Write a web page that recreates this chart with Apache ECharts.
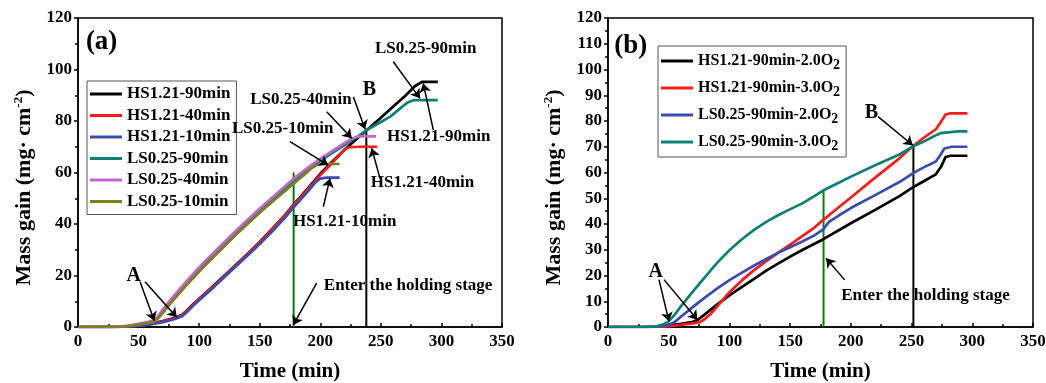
<!DOCTYPE html>
<html>
<head>
<meta charset="utf-8">
<script src="https://cdn.jsdelivr.net/npm/echarts@6/dist/echarts.min.js"></script>
<style>
  html, body { margin: 0; padding: 0; background: #fff; }
  #main { width: 1046px; height: 383px; }
</style>
</head>
<body>
<div id="main"></div>
<script>
// panel (a) curves: [time (min), mass gain]
const hs90a = [[0,0],[30,0],[40,0.2],[50,0.6],[60,1.3],[70,2.3],[80,3.6],[86,4.8],[90,6.5],[95,8.8],[100,11],[110,15.2],[120,19.6],[130,24],[140,28.5],[150,33],[160,38],[170,43],[178,47.5],[190,54],[200,59.5],[210,64.3],[220,68.8],[230,73],[238,76.3],[250,81.3],[260,85.5],[270,89.7],[278,93.5],[284,95.2],[297,95.2]];
const hs40a = [[0,0],[30,0],[40,0.2],[50,0.5],[60,1.2],[70,2.2],[80,3.4],[86,4.6],[90,6.3],[95,8.6],[100,10.8],[110,15],[120,19.4],[130,23.8],[140,28.3],[150,32.8],[160,37.8],[170,42.8],[178,47.3],[190,53.6],[200,59],[210,63.8],[216,66.8],[220,69],[224,69.8],[232,70],[247,70]];
const hs10a = [[0,0],[30,0],[40,0.1],[50,0.4],[60,1],[70,1.9],[80,3.1],[86,4.2],[90,5.8],[95,8.2],[100,10.4],[110,14.6],[120,19],[130,23.4],[140,27.8],[150,32.2],[160,37],[170,42],[178,46.5],[190,52.8],[196,56.2],[200,57.6],[205,58],[216,58]];
const ls90a = [[0,0],[30,0],[40,0.3],[50,1],[58,1.8],[63,2.3],[67,4.2],[70,6],[76,9.6],[90,17.2],[103,23.8],[120,31.8],[131,36.9],[150,45.2],[158,48.5],[175,55.6],[178,56.8],[190,61.3],[200,64.5],[210,67.6],[220,70.6],[230,73.7],[238,76.4],[250,79.6],[258,81.8],[265,84.5],[272,87.2],[277,88.1],[297,88.1]];
const ls40a = [[0,0],[30,0],[40,0.4],[50,1.2],[58,2],[63,2.6],[67,4.8],[70,6.8],[76,10.4],[90,18],[103,24.7],[120,32.6],[131,37.7],[150,46],[158,49.3],[175,56.4],[178,57.6],[190,62],[200,65.3],[210,68.4],[220,71.4],[226,73.2],[232,74],[246,74]];
const ls10a = [[0,0],[30,0],[40,0.3],[50,0.9],[58,1.6],[63,2.1],[67,3.8],[70,5.5],[76,9],[90,16.5],[103,23],[120,31],[131,36.1],[150,44.4],[158,47.7],[175,54.5],[178,55.6],[186,58.8],[192,61.4],[197,62.9],[202,63.3],[216,63.3]];

// panel (b) curves
const hs2b = [[0,0],[30,0],[40,0.2],[50,0.6],[60,1.2],[70,2],[74,2.8],[80,5],[90,8.8],[100,12.3],[110,15.5],[120,18.6],[130,21.8],[140,24.6],[150,27.3],[160,29.9],[177,34],[200,40.3],[220,45.5],[240,50.8],[251,54.2],[260,56.6],[270,59.3],[274,62],[278,66],[282,66.5],[296,66.5]];
const hs3b = [[0,0],[40,0],[50,0.3],[60,0.8],[70,1.4],[76,2],[80,3.2],[85,5.3],[90,8],[100,13.5],[110,18],[120,22],[130,25.5],[140,28.8],[150,32],[160,35.3],[170,38.6],[177,41.5],[190,46.5],[200,50.3],[220,58],[240,65.5],[251,70.2],[260,73.5],[270,76.8],[274,79.5],[278,82.5],[282,83],[296,83]];
const ls2b = [[0,0],[40,0.1],[50,0.8],[55,2],[60,4],[70,7.8],[80,11.5],[90,15],[100,18.2],[110,21],[120,23.8],[130,26.3],[140,28.8],[150,31],[160,33.2],[170,35.6],[177,37.8],[182,40.8],[190,43.3],[200,46.2],[220,51.2],[240,56.3],[251,59.7],[260,62],[270,64.3],[274,67],[277,69.3],[283,70],[296,70]];
const ls3b = [[0,0],[35,0],[40,0.3],[45,0.9],[50,2.2],[55,4.8],[60,8],[70,13.8],[80,19.5],[90,25],[100,29.8],[110,34],[120,37.6],[130,40.7],[140,43.4],[148,45.3],[160,48],[170,50.8],[177,53],[190,56],[200,58.4],[220,62.8],[240,67],[251,70.1],[260,72],[268,74],[274,75.3],[282,75.7],[288,76],[296,76]];

const namesA = ['HS1.21-90min', 'HS1.21-40min', 'HS1.21-10min', 'LS0.25-90min', 'LS0.25-40min', 'LS0.25-10min'];
const namesB = ['HS1.21-90min-2.0O2', 'HS1.21-90min-3.0O2', 'LS0.25-90min-2.0O2', 'LS0.25-90min-3.0O2'];

// vertical marker lines
const greenA = [[178,0],[178,60]];
const blackA = [[238,0],[238,76.4]];
const greenB = [[177.5,0],[177.5,53.2]];
const blackB = [[251.5,0],[251.5,70.2]];

// arrows [from, to]
const arrowsA = [
  [[260.3,103],[282.3,88.8]],
  [[293.3,76.5],[285,94.6]],
  [[205.3,83.6],[226,73.3]],
  [[227.3,89.4],[237,76.8]],
  [[175,72],[206.6,62.9]],
  [[249.3,57.7],[242.4,69.4]],
  [[202.5,46.7],[208,57.7]],
  [[197,17],[177.7,0.8]],
  [[51.2,17.6],[63,2.4]],
  [[55.3,17.6],[81.5,3.8]]
];
const arrowsB = [
  [[222.4,81.7],[251,70.6]],
  [[194.9,18.3],[179.6,26.7]],
  [[42,18.4],[50.2,2.2]],
  [[46.1,18.4],[73.6,2.8]]
];

// text labels [text, x, y] (centered)
const textA = [
  ['LS0.25-90min', 287, 108.2],
  ['LS0.25-40min', 184, 88.5],
  ['LS0.25-10min', 169, 77.2],
  ['HS1.21-90min', 297.7, 73.9],
  ['HS1.21-40min', 284.4, 56],
  ['HS1.21-10min', 220.1, 40.9]
];
const letterA = [['A', 46, 19.7], ['B', 240.5, 92]];
const letterB = [['A', 39.3, 21.6], ['B', 216.9, 83.1]];
const holdA = [['Enter the holding stage', 202.5, 15.9]];
const holdB = [['Enter the holding stage', 191.6, 12]];
const panelA = [['(a)', 19.5, 110.8]];
const panelB = [['(b)', 18.7, 109]];

const colorsA = ['#000000', '#ff1a1a', '#3a4cb0', '#0e7f74', '#c466c8', '#7f7f1e'];
const colorsB = ['#000000', '#ff1a1a', '#3a4cb0', '#0e7f74'];

const FONT = "'Liberation Serif', 'Times New Roman', serif";
const chart = echarts.init(document.getElementById('main'));

function curve(name, data, color, idx) {
  return {
    type: 'line', name: name, data: data,
    xAxisIndex: idx, yAxisIndex: idx,
    symbol: 'none', smooth: false,
    lineStyle: { color: color, width: 2.7, join: 'round' },
    itemStyle: { color: color },
    z: 3
  };
}
function vline(data, color, idx) {
  return {
    type: 'line', data: data, xAxisIndex: idx, yAxisIndex: idx,
    symbol: 'none', silent: true,
    lineStyle: { color: color, width: 2 }, z: 2
  };
}
function arrows(list, idx) {
  return {
    type: 'lines', coordinateSystem: 'cartesian2d',
    xAxisIndex: idx, yAxisIndex: idx,
    symbol: ['none', 'arrow'], symbolSize: 9, silent: true,
    lineStyle: { color: '#000', width: 1.5, opacity: 1, curveness: 0 },
    data: list.map(a => ({ coords: a })), z: 5
  };
}
function texts(list, idx, size, left) {
  return {
    type: 'scatter', xAxisIndex: idx, yAxisIndex: idx,
    symbolSize: 1, silent: true,
    itemStyle: { color: 'rgba(0,0,0,0)', opacity: 1 },
    label: {
      show: true, position: left ? 'right' : 'inside', distance: 0,
      formatter: p => p.name,
      fontFamily: FONT, fontWeight: 'bold', fontSize: size, color: '#000', opacity: 1
    },
    data: list.map(t => ({ name: t[0], value: [t[1], t[2]] })), z: 6
  };
}

const axisText = { fontFamily: FONT, fontWeight: 'bold', fontSize: 17, color: '#000' };
function xAxis(idx) {
  return {
    type: 'value', gridIndex: idx, min: 0, max: 350, interval: 50,
    name: 'Time (min)', nameLocation: 'middle', nameGap: 34,
    nameTextStyle: { fontFamily: FONT, fontWeight: 'bold', fontSize: 21, color: '#000' },
    axisLine: { show: true, lineStyle: { color: '#000', width: 1.5 } },
    axisTick: { show: true, inside: true, length: 4, lineStyle: { color: '#000', width: 1.5 } },
    minorTick: { show: true, splitNumber: 2, length: 3, lineStyle: { color: '#000', width: 1.5 } },
    axisLabel: Object.assign({ margin: 6 }, axisText),
    splitLine: { show: false }
  };
}
function yAxis(idx, interval) {
  return {
    type: 'value', gridIndex: idx, min: 0, max: 120, interval: interval,
    name: 'Mass gain (mg· cm{sup|-2})', nameLocation: 'middle', nameGap: 42,
    nameTextStyle: {
      fontFamily: FONT, fontWeight: 'bold', fontSize: 22, color: '#000', lineHeight: 24,
      padding: [0, 30, 0, 0],
      rich: { sup: { fontFamily: FONT, fontWeight: 'bold', fontSize: 13, color: '#000', verticalAlign: 'top', lineHeight: 13 } }
    },
    axisLine: { show: true, lineStyle: { color: '#000', width: 1.5 } },
    axisTick: { show: true, inside: false, length: 4, lineStyle: { color: '#000', width: 1.5 } },
    minorTick: { show: true, splitNumber: 2, length: 3, lineStyle: { color: '#000', width: 1.5 } },
    axisLabel: Object.assign({ margin: 6 }, axisText),
    splitLine: { show: false }
  };
}

const legendBase = {
  orient: 'vertical', icon: 'rect', itemWidth: 32, itemHeight: 3,
  borderColor: '#555', borderWidth: 1, borderRadius: 0,
  backgroundColor: '#fff', selectedMode: false
};

const option = {
  backgroundColor: '#fff',
  animation: false,
  grid: [
    { left: 78, top: 18, width: 424, height: 309, outerBoundsMode: 'none', show: true, borderColor: '#000', borderWidth: 1.5, backgroundColor: 'transparent' },
    { left: 608, top: 18, width: 425, height: 309, outerBoundsMode: 'none', show: true, borderColor: '#000', borderWidth: 1.5, backgroundColor: 'transparent' }
  ],
  xAxis: [xAxis(0), xAxis(1)],
  yAxis: [yAxis(0, 20), yAxis(1, 10)],
  legend: [
    Object.assign({}, legendBase, {
      data: namesA, left: 87, top: 81, itemGap: 3.5, padding: [4, 6, 4, 3],
      textStyle: { fontFamily: FONT, fontWeight: 'bold', fontSize: 17, color: '#000', lineHeight: 18 }
    }),
    Object.assign({}, legendBase, {
      data: namesB, left: 658, top: 46, itemGap: 5, padding: [4, 6, 4, 3],
      formatter: n => n.replace(/O2$/, 'O{s|2}'),
      textStyle: {
        fontFamily: FONT, fontWeight: 'bold', fontSize: 16, color: '#000', lineHeight: 22,
        rich: { s: { fontFamily: FONT, fontWeight: 'bold', fontSize: 14, color: '#000', verticalAlign: 'bottom', lineHeight: 14 } }
      }
    })
  ],
  series: [
    curve(namesA[0], hs90a, colorsA[0], 0),
    curve(namesA[1], hs40a, colorsA[1], 0),
    curve(namesA[2], hs10a, colorsA[2], 0),
    curve(namesA[3], ls90a, colorsA[3], 0),
    curve(namesA[4], ls40a, colorsA[4], 0),
    curve(namesA[5], ls10a, colorsA[5], 0),
    curve(namesB[0], hs2b, colorsB[0], 1),
    curve(namesB[1], hs3b, colorsB[1], 1),
    curve(namesB[2], ls2b, colorsB[2], 1),
    curve(namesB[3], ls3b, colorsB[3], 1),
    vline(greenA, '#008000', 0),
    vline(blackA, '#000', 0),
    vline(greenB, '#008000', 1),
    vline(blackB, '#000', 1),
    arrows(arrowsA, 0),
    arrows(arrowsB, 1),
    texts(textA, 0, 17, false),
    texts(letterA, 0, 20, false),
    texts(letterB, 1, 20, false),
    texts(holdA, 0, 17, true),
    texts(holdB, 1, 17, true),
    texts(panelA, 0, 27, false),
    texts(panelB, 1, 27, false)
  ]
};
chart.setOption(option);
</script>
</body>
</html>
